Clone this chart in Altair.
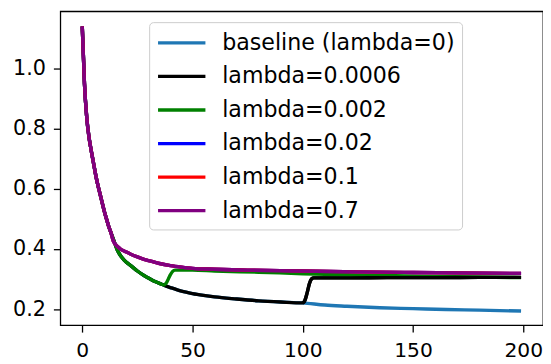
import altair as alt
import pandas as pd

labels = ["baseline (lambda=0)", "lambda=0.0006", "lambda=0.002",
          "lambda=0.02", "lambda=0.1", "lambda=0.7"]
colors = ["#1f77b4", "#000000", "#008000", "#0000ff", "#ff0000", "#800080"]

# baseline (lambda=0)
base_x = [0, 1, 2, 3, 4, 5, 6, 7, 8, 9, 10, 11, 12, 13, 14, 16, 18, 20, 22, 25,
          28, 30, 33, 36, 37, 40, 45, 50, 55, 60, 70, 80, 90, 100, 110, 120,
          135, 150, 165, 180, 199]
base_y = [1.14, 0.95, 0.84, 0.775, 0.73, 0.69, 0.65, 0.615, 0.585, 0.555, 0.525,
          0.50, 0.475, 0.455, 0.435, 0.395, 0.372, 0.356, 0.345, 0.327, 0.312,
          0.304, 0.292, 0.283, 0.280, 0.272, 0.260, 0.252, 0.246, 0.241, 0.234,
          0.228, 0.224, 0.221, 0.214, 0.210, 0.205, 0.202, 0.199, 0.197, 0.194]

# lambda=0.0006 : follows baseline up to epoch 100, then jumps
l0006_x = base_x[:34] + [101, 102, 103, 104, 105, 120, 140, 160, 180, 199]
l0006_y = base_y[:34] + [0.230, 0.255, 0.285, 0.301, 0.304, 0.304, 0.305,
                         0.305, 0.306, 0.306]

# lambda=0.002 : follows baseline up to epoch 37, then jumps
l002_x = base_x[:25] + [38, 39, 40, 41, 42, 50, 60, 80, 100, 130, 160, 199]
l002_y = base_y[:25] + [0.286, 0.300, 0.315, 0.326, 0.330, 0.330, 0.327,
                        0.323, 0.318, 0.313, 0.309, 0.305]

# lambda=0.02 / 0.1 / 0.7 : upper path (overlapping)
upper_x = base_x[:14] + [14, 15, 17, 20, 22, 25, 28, 31, 35, 40, 45, 50, 60,
                         75, 100, 125, 150, 199]
upper_y = base_y[:14] + [0.428, 0.416, 0.402, 0.390, 0.383, 0.374, 0.366,
                         0.360, 0.352, 0.345, 0.340, 0.336, 0.333, 0.330,
                         0.327, 0.324, 0.322, 0.319]

series = [
    (labels[0], base_x, base_y),
    (labels[1], l0006_x, l0006_y),
    (labels[2], l002_x, l002_y),
    (labels[3], upper_x, upper_y),
    (labels[4], upper_x, upper_y),
    (labels[5], upper_x, upper_y),
]
rows = []
for i, (name, xs, ys) in enumerate(series):
    for x, y in zip(xs, ys):
        rows.append({"series": name, "k": i, "epoch": x, "loss": y})
df = pd.DataFrame(rows)

font = "DejaVu Sans"

x_enc = alt.X("epoch:Q",
              scale=alt.Scale(domain=[-9.95, 208.95], nice=False, zero=False),
              axis=alt.Axis(values=[0, 50, 100, 150, 200], title=None,
                            grid=False, domain=False, tickSize=7,
                            tickColor="black", tickWidth=1.3, labelFontSize=20.5,
                            labelFont=font, labelColor="black",
                            labelPadding=9))
y_enc = alt.Y("loss:Q",
              scale=alt.Scale(domain=[0.147, 1.19], nice=False, zero=False),
              axis=alt.Axis(values=[0.2, 0.4, 0.6, 0.8, 1.0], format=".1f",
                            title=None, grid=False, domain=False, tickSize=7,
                            tickColor="black", tickWidth=1.3, labelFontSize=21,
                            labelFont=font, labelColor="black", labelPadding=8))
color_scale = alt.Scale(domain=labels, range=colors)

lines = alt.Chart(df).mark_line(strokeWidth=3.4, interpolate="monotone").encode(
    x=x_enc,
    y=y_enc,
    color=alt.Color("series:N", scale=color_scale,
                    legend=alt.Legend(title=None, orient="none", legendX=90,
                                      legendY=11, symbolType="M-1,0H3",
                                      symbolSize=576, symbolStrokeWidth=3.4,
                                      symbolFillColor="transparent",
                                      labelFontSize=22.4, labelFont=font,
                                      labelColor="black", labelOffset=39,
                                      labelLimit=500, padding=7, rowPadding=8,
                                      strokeColor="#cccccc",
                                      fillColor="rgba(255,255,255,0.8)",
                                      cornerRadius=4)),
    order=alt.Order("epoch:Q"),
)

# tail of lambda=0.0006 drawn on top of the lambda=0.002 tail
tail = alt.Chart(df).transform_filter(
    (alt.datum.series == labels[1]) & (alt.datum.epoch >= 100)
).mark_line(strokeWidth=3.4, interpolate="monotone").encode(
    x="epoch:Q",
    y="loss:Q",
    color=alt.Color("series:N", scale=color_scale, legend=None),
    order=alt.Order("epoch:Q"),
)

chart = alt.layer(lines, tail).properties(
    width=489, height=318,
    autosize=alt.AutoSizeParams(type="none"),
    padding={"left": 53, "top": 1, "right": 0, "bottom": 39},
).configure_view(stroke="black", strokeWidth=1.3)

chart.save("out.html", embed_options={"renderer": "svg", "actions": False})
